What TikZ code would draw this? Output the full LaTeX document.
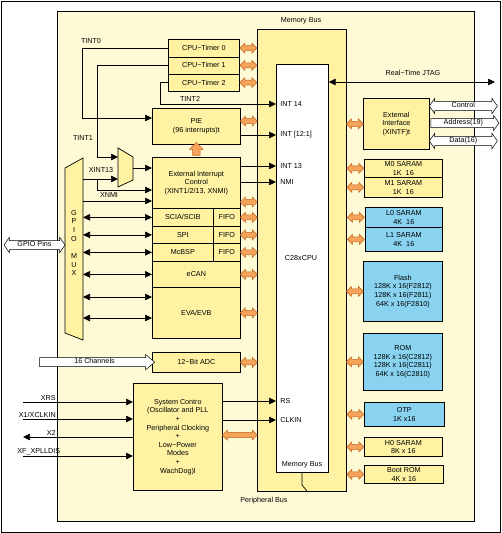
\documentclass[tikz,border=0pt]{standalone}
\usepackage{fontspec}
\setmainfont{Liberation Sans}
\usetikzlibrary{positioning, arrows.meta, shapes.arrows, calc}
\definecolor{pagebg}{HTML}{FFFAD6}
\definecolor{boxfill}{HTML}{FFF3A3}
\definecolor{memblue}{HTML}{89D3F1}
\definecolor{busorange}{HTML}{F5A25A}
\definecolor{busedge}{HTML}{C0661C}

\begin{document}
\begin{tikzpicture}[
    x=1pt, y=-1pt, line width=0.7pt,
    font=\fontsize{7.2}{8.6}\selectfont,
    blk/.style={rectangle, draw, fill=boxfill, align=center, inner sep=0pt, anchor=north west},
    memblk/.style={blk, fill=memblue},
    sig/.style={-{Triangle[length=7pt,width=6.5pt]}},
    bidir/.style={{Triangle[length=7pt,width=6.5pt]}-{Triangle[length=7pt,width=6.5pt]}},
    oarr/.style={double arrow, draw=busedge, line width=0.5pt, fill=busorange, inner sep=2.3pt, minimum height=17pt, double arrow head extend=2.4pt},
    oup/.style={single arrow, draw=busedge, line width=0.5pt, fill=busorange, inner sep=3.5pt, minimum height=13pt, single arrow head extend=3.2pt, shape border rotate=90},
    wdbl/.style={double arrow, draw, line width=0.5pt, fill=white, inner xsep=2pt, inner ysep=1pt, text height=5pt, text depth=1.5pt, double arrow head extend=3.2pt, double arrow tip angle=110},
    wsgl/.style={single arrow, draw, line width=0.5pt, fill=white, inner xsep=2pt, inner ysep=1pt, text height=5pt, text depth=1.5pt, single arrow head extend=3.2pt, single arrow tip angle=80},
    lbl/.style={inner sep=1pt},
]
\useasboundingbox (0,0) rectangle (502,533);
\fill[white] (0,0) rectangle (502,533);
\draw (1,1) rectangle (500,532);
\draw[fill=pagebg] (57,11) rectangle (474,521);

% buses and cpu
\node[blk, minimum width=89pt, minimum height=462pt] (mbus) at (257,29) {};
\node[blk, fill=white, minimum width=52pt, minimum height=408pt] (cpu) at (276,64) {};
\node at (301,21) {Memory Bus};
\node at (301,258) {C28xCPU};
\node at (302,465) {Memory Bus};
\node at (264,501) {Peripheral Bus};
\draw (302,472) -- (302,485) -- (307,491);

% left side peripherals
\node[blk, minimum width=71pt, minimum height=17.5pt] (t0) at (168,39) {CPU−Timer 0};
\node[blk, minimum width=71pt, minimum height=17pt] (t1) at (168,56.5) {CPU−Timer 1};
\node[blk, minimum width=71pt, minimum height=17.5pt] (t2) at (168,73.5) {CPU−Timer 2};
\node[blk, minimum width=88pt, minimum height=36pt] (pie) at (152,108) {PIE\\(96 interrupts)t};
\node[blk, minimum width=88pt, minimum height=51pt] (eic) at (152,157) {External Interrupt\\Control\\(XINT1/2/13, XNMI)};
\node[blk, minimum width=61pt, minimum height=18pt] (scia) at (152,208) {SCIA/SCIB};
\node[blk, minimum width=27pt, minimum height=18pt] (fifoa) at (213,208) {FIFO};
\node[blk, minimum width=61pt, minimum height=17pt] (spi) at (152,226) {SPI};
\node[blk, minimum width=27pt, minimum height=17pt] (fifob) at (213,226) {FIFO};
\node[blk, minimum width=61pt, minimum height=18pt] (mcbsp) at (152,243) {McBSP};
\node[blk, minimum width=27pt, minimum height=18pt] (fifoc) at (213,243) {FIFO};
\node[blk, minimum width=88pt, minimum height=26pt] (ecan) at (152,261) {eCAN};
\node[blk, minimum width=88pt, minimum height=51pt] (eva) at (152,287) {EVA/EVB};
\node[blk, minimum width=88pt, minimum height=20pt] (adc) at (152,352) {12−Bit ADC};
\node[blk, minimum width=89pt, minimum height=107pt] (sysctl) at (133,383) {System Contro\\(Oscillator and PLL\\+\\Peripheral Clocking\\+\\Low−Power\\Modes\\+\\WachDog)l};

% right side memories
\node[blk, minimum width=66pt, minimum height=51pt] (xintf) at (363,98) {External\\Interface\\(XINTF)t};
\node[blk, minimum width=78pt, minimum height=18pt] (m0) at (364,159) {M0 SARAM\\1K\ \ 16};
\node[blk, minimum width=78pt, minimum height=20pt] (m1) at (364,177) {M1 SARAM\\1K\ \ 16};
\node[memblk, minimum width=77pt, minimum height=20pt] (l0) at (365,207) {L0 SARAM\\4K\ \ 16};
\node[memblk, minimum width=77pt, minimum height=24pt] (l1) at (365,227) {L1 SARAM\\4K\ \ 16};
\node[memblk, minimum width=79pt, minimum height=60pt] (flash) at (363,261) {Flash\\128K x 16(F2812)\\128K x 16(F2811)\\64K x 16(F2810)};
\node[memblk, minimum width=79pt, minimum height=57pt] (rom) at (363,333) {ROM\\128K x 16(C2812)\\128K x 16(C2811)\\64K x 16(C2810)};
\node[memblk, minimum width=80pt, minimum height=24pt] (otp) at (364,402) {OTP\\1K x16};
\node[blk, minimum width=78pt, minimum height=19pt] (h0) at (364,437) {H0 SARAM\\8K x 16};
\node[blk, minimum width=79pt, minimum height=18pt] (boot) at (364,465) {Boot ROM\\4K x 16};

% muxes
\draw[fill=boxfill] (118,148) -- (133,157) -- (133,180) -- (118,187) -- cycle;
\coordinate (muxA) at (118,157);
\coordinate (muxB) at (118,179);
\coordinate (muxout) at (133,168);
\draw[fill=boxfill] (65,168) -- (83,158) -- (83,340) -- (65,333) -- cycle;
\node[align=center, inner sep=0pt] at (74,243) {G\\P\\I\\O\\[9pt]M\\U\\X};
\coordinate (gpioR) at (83,245);
\coordinate (gpioL) at (65,245);

% interrupt lines
\draw[sig] (t0.west) -| (82,118) -- (pie.west |- 0,118);
\node[lbl] at (91,41) {TINT0};
\draw[sig] (t1.west) -| (97,157) -- (muxA);
\node[lbl] at (83,138) {TINT1};
\draw[sig] (t2.west) -| (160,104) -- (cpu.west |- 0,104);
\node[lbl] at (190,99) {TINT2};
\draw[sig] (pie.east |- 0,135) -- (cpu.west |- 0,135);
\draw[sig] (eic.east |- 0,166) -- (cpu.west |- 0,166);
\draw[sig] (eic.east |- 0,182) -- (cpu.west |- 0,182);
\draw[sig] (muxout) -- (eic.west |- muxout);
\draw[sig] (gpioR |- muxB) -- (muxB);
\draw[sig] (97,179) |- (eic.west |- 0,190);
\node[lbl] at (101,170) {XINT13};
\draw[sig] (gpioR |- 0,201) -- (eic.west |- 0,201);
\node[lbl] at (109,195) {XNMI};
\node[lbl, anchor=west] at (279,104) {INT 14};
\node[lbl, anchor=west] at (279,135) {INT [12:1]};
\node[lbl, anchor=west] at (279,166) {INT 13};
\node[lbl, anchor=west] at (279,182) {NMI};
\node[lbl, anchor=west] at (279,401) {RS};
\node[lbl, anchor=west] at (279,420) {CLKIN};

% gpio connections
\foreach \n in {scia, spi, mcbsp, ecan}
    \draw[bidir] (gpioR |- \n.west) -- (\n.west);
\foreach \y in {297, 318}
    \draw[bidir] (gpioR |- 0,\y) -- (eva.west |- 0,\y);

% system control signals
\coordinate (xrs) at (23,402);
\coordinate (xclk) at (23,419);
\coordinate (xtwo) at (23,437);
\coordinate (xfpll) at (23,456);
\draw[sig] (xrs) -- node[lbl, pos=0.31, anchor=south east] {XRS} (sysctl.west |- xrs);
\draw[sig] (xclk) -- node[lbl, pos=0.31, anchor=south east] {X1/XCLKIN} (sysctl.west |- xclk);
\draw[sig] (sysctl.west |- xtwo) -- node[lbl, pos=0.69, anchor=south east] {X2} (xtwo);
\draw[sig] (xfpll) -- node[lbl, pos=0.35, anchor=south east] {XF\_XPLLDIS} (sysctl.west |- xfpll);
\draw[sig] (sysctl.east |- 0,401) -- (cpu.west |- 0,401);
\draw[sig] (sysctl.east |- 0,420) -- (cpu.west |- 0,420);

% jtag
\coordinate (jtagend) at (495,82);
\draw[bidir] (cpu.east |- jtagend) -- (jtagend);
\node[lbl] at (413,73) {Real−Time JTAG};

% bus arrows
\foreach \n in {t0, t1, t2, fifoa, fifob, fifoc, ecan, eva, adc}
    \path (\n.east) -- node[oarr] {} (\n.east -| mbus.west);
\path (pie.east |- 0,121) -- node[oarr] {} (mbus.west |- 0,121);
\path (eic.east |- 0,202) -- node[oarr] {} (mbus.west |- 0,202);
\path (sysctl.east |- 0,435) -- node[oarr, minimum height=35pt] {} (mbus.west |- 0,435);
\foreach \n in {xintf, m0, m1, l0, l1, flash, rom, otp, h0, boot}
    \path (mbus.east |- \n.west) -- node[oarr] {} (\n.west);
\path (eic.north) -- node[oup] {} (pie.south);

% external buses
\coordinate (pinsend) at (4,245);
\path (pinsend) -- node[wdbl, minimum height=61pt] {GPIO Pins} (gpioL);
\coordinate (chanstart) at (37,362);
\path (chanstart) -- node[wsgl, minimum height=115pt] {16 Channels} (adc.west);
\coordinate (ctlend) at (497,106);
\coordinate (addrend) at (497,123);
\coordinate (dataend) at (497,141);
\path (xintf.east |- ctlend) -- node[wdbl, minimum height=68pt] {Control} (ctlend);
\path (xintf.east |- addrend) -- node[wsgl, minimum height=68pt, single arrow tip angle=110] {Address(19)} (addrend);
\path (xintf.east |- dataend) -- node[wdbl, minimum height=68pt] {Data(16)} (dataend);
\end{tikzpicture}
\end{document}
